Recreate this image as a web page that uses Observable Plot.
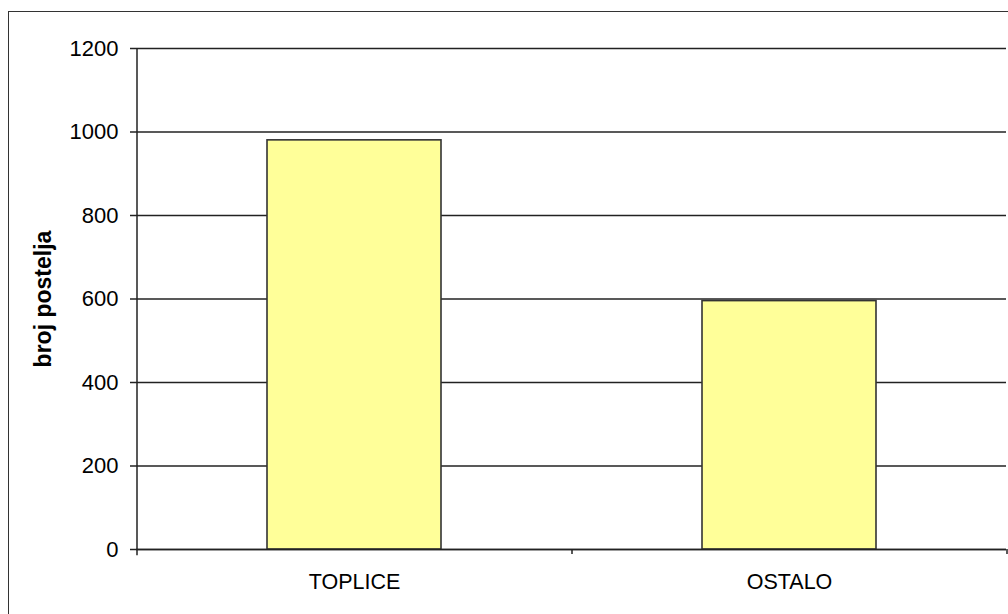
<!DOCTYPE html>
<html>
<head>
<meta charset="utf-8">
<script src="https://cdn.jsdelivr.net/npm/d3@7"></script>
<script src="https://cdn.jsdelivr.net/npm/@observablehq/plot@0.6"></script>
<style>
  html, body { margin: 0; padding: 0; background: #fff; overflow: hidden; }
  #wrap { position: relative; width: 1008px; height: 614px; }
  #outer { position: absolute; left: 8px; top: 11px; width: 1100px; height: 700px; border: 1.5px solid #333; box-sizing: border-box; pointer-events: none; }
  #chart { position: absolute; left: 0; top: 0; }
</style>
</head>
<body>
<div id="wrap">
  <div id="chart"></div>
  <div id="outer"></div>
</div>
<script>
const categories = ["TOPLICE", "OSTALO"];
const values = [980, 595];
const yTicks = [0, 200, 400, 600, 800, 1000, 1200];
const yLabel = "broj postelja";

const data = categories.map((c, i) => ({category: c, value: values[i]}));

const W = 1008, H = 614, mL = 136, mR = 2, mT = 48, mB = 65;
const step = (W - mL - mR) / categories.length;

const chart = Plot.plot({
  width: W,
  height: H,
  marginLeft: mL,
  marginRight: mR,
  marginTop: mT,
  marginBottom: mB,
  style: {fontFamily: "'Liberation Sans', Arial, sans-serif", fontSize: "21.5px", color: "#000", background: "transparent", overflow: "visible"},
  x: {domain: categories, paddingInner: 0.6, paddingOuter: 0.3, label: null},
  y: {domain: [0, 1200], ticks: yTicks, label: null},
  marks: [
    Plot.gridY(yTicks, {stroke: "#222", strokeOpacity: 1, strokeWidth: 1.3}),
    Plot.barY(data, {x: "category", y: "value", fill: "#FFFF99", stroke: "#333", strokeWidth: 1.6}),
    Plot.ruleY([0], {stroke: "#222", strokeWidth: 1.5}),
    Plot.ruleX(categories.slice(0, 1), {x: d => d, y1: -15, y2: 1200, dx: -step / 2, stroke: "#222", strokeWidth: 1.5}),
    Plot.ruleX(categories, {x: d => d, y1: -12, y2: 0, dx: step / 2, stroke: "#222", strokeWidth: 1.5}),
    Plot.axisY(yTicks, {tickSize: 6, tickPadding: 12, tickFormat: d => String(d), label: null, stroke: "#222", strokeWidth: 1.5, fill: "#000", fontSize: 22}),
    Plot.axisX({tickSize: 0, tickPadding: 24, label: null, fill: "#000", fontSize: 21.5}),
    Plot.text([yLabel], {frameAnchor: "left", dx: -86, rotate: -90, textAnchor: "middle", lineAnchor: "bottom", fontWeight: "bold", fontSize: 23, fill: "#000"})
  ]
});
document.getElementById("chart").appendChild(chart);
</script>
</body>
</html>
